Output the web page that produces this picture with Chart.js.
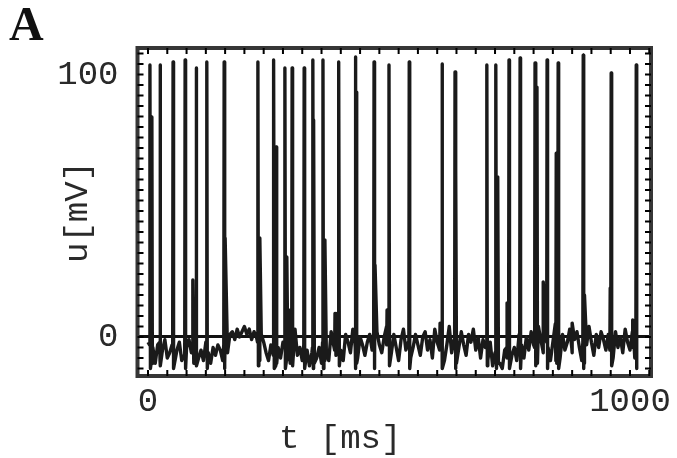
<!DOCTYPE html>
<html><head><meta charset="utf-8">
<script src="https://cdn.jsdelivr.net/npm/chart.js@4.4.1/dist/chart.umd.min.js"></script>
<style>html,body{margin:0;padding:0;background:#fff;}#wrap{width:677px;height:458px;position:relative;background:#fff}</style>
</head><body><div id="wrap"><canvas id="c" width="677" height="458"></canvas></div>
<script>
// ---- texts ----
const panelLabel = 'A';
const xTitle = 't [ms]';
const yTitle = 'u[mV]';

// ---- ticks ----
const xTickValues = [0,40,80,120,160,200,240,280,320,360,400,440,480,520,560,600,640,680,720,760,800,840,880,920,960,1000,1040];
const xLabelValues = [0, 1000];
const yTickValues = [-12,-8,-4,0,4,8,12,16,20,24,28,32,36,40,44,48,52,56,60,64,68,72,76,80,84,88,92,96,100,104,108];
const yLabelValues = [0, 100];

// ---- membrane potential trace (mV) ----
// subthreshold samples, one every 5 ms starting at t = 0
const noiseStart = 0;
const noiseStep = 5;
const noiseV = [
  -2, -8, -4, -10, -3, -9, -5, -1, -8, -6,
  -3, -10, -5, -2, -9, -7, -4, -1, -6, -10,
  -3, -8, -5, -9, -2, -6, -10, -4, -7, -3,
  -5, -9, -2, -6, 1, 2, -1, 3, 0, 2,
  4, 1, 3, -1, 2, 0, -3, 1, -2, -6,
  -9, -3, -7, -11, -4, -8, -2, 5, -6, -10,
  -3, 3, -7, -4, -9, 2, -5, -11, -6, 1,
  -8, -4, -10, 0, -6, -9, 2, -3, -7, -1,
  -5, -9, 1, -2, -6, 3, -4, -8, 0, -3,
  -7, -2, 1, -5, -8, 2, -3, -6, 0, 4,
  -2, -6, 1, -4, -9, -1, 3, -5, -2, -8,
  -4, 1, -3, -7, 0, 2, -5, -1, -8, 3,
  -2, -5, 1, -9, -3, 4, -6, -1, -10, -4,
  2, -3, -7, 1, -2, 3, -5, 0, -8, -1,
  -4, -9, -2, -11, -6, -3, -10, -12, -5, -8,
  -11, -7, -4, -9, 1, -3, -8, 0, -5, 2,
  -3, -8, 4, -1, -6, 1, -4, -9, -2, 5,
  -3, -8, 1, -5, -2, 3, -6, -1, 2, -4,
  -9, 0, -3, 4, -2, -7, 1, -4, 2, -1,
  -5, 1, -3, -8, 2, -4, 0, -6, 3, -2,
  -5, 2, -8, -12
];
// spikes: time (ms), value just before the upstroke, peak (mV), value right after the peak (null = no reset)
const spikeT = [4, 8, 25, 52, 77, 93, 100, 122, 158, 160, 228, 232, 261, 266, 284, 288, 295, 299, 324, 342, 344, 363, 367, 388, 396, 430, 432, 469, 471, 496, 500, 542, 606, 610, 637, 639, 703, 722, 726, 745, 749, 772, 803, 807, 820, 828, 847, 851, 880, 903, 906, 959, 961, 1006, 1013];
const spikeBase = [-3, -9, -2, -4, -3, -5, -2, -4, -3, -10, -2, -9, -4, -10, -3, -9, -4, -2, -3, -4, -10, -2, -9, -5, -3, -2, -10, -4, -9, -3, -2, -4, -3, -2, -3, -10, -4, -3, -10, -4, -2, -3, -4, -10, -5, -2, -9, -3, -4, -2, -10, -5, -2, -4, -3];
const spikePeak = [103.6, 83.8, 103.6, 104.8, 105.5, 21.7, 102.5, 104.8, 104.8, 37.7, 104.8, 37.7, 105.5, 72.4, 102.5, 30.5, 10.3, 102.5, 102.5, 105.5, 82.7, 105.5, 37, 9, 104.8, 106.7, 93.3, 104.8, 27.4, 10.3, 103.6, 104.8, 5.3, 104, 101, 63.6, 103.6, 103.6, 61, 13, 105.5, 106.3, 104.4, 95.2, 21, 105.5, 70, 104.4, 5.3, 107.4, 16, 18.7, 100.6, 6.5, 103.6];
const spikeReset = [-12, -10, -11, -12, -12, null, -11, -12, -12, null, -11, null, -12, -10, -12, null, null, -11, -12, -12, -10, -12, null, null, -11, -12, -10, -12, null, null, -11, -12, null, -12, -12, -10, -11, -12, -10, null, -12, -12, -11, -10, null, -12, -10, -12, null, -12, null, null, -11, null, -12];

// build the point list for the library
const pts = noiseV.map((v, i) => ({x: noiseStart + i * noiseStep, y: v}));
spikeT.forEach((t, i) => {
  pts.push({x: t - 0.8, y: spikeBase[i]});
  pts.push({x: t, y: spikePeak[i]});
  if (spikeReset[i] !== null) pts.push({x: t + 1, y: spikeReset[i]});
});
pts.sort((a, b) => a.x - b.x);

const monoFont = 'Liberation Mono';

const framePlugin = {
  id: 'frame',
  afterDatasetsDraw(chart) {
    const ctx = chart.ctx;
    const {left, right, top, bottom} = chart.chartArea;
    const xs = chart.scales.x, ys = chart.scales.y;
    ctx.save();
    ctx.strokeStyle = '#363636';
    ctx.lineWidth = 4;
    ctx.strokeRect(left, top, right - left, bottom - top);
    ctx.strokeStyle = '#000';
    ctx.lineWidth = 2;
    ctx.beginPath();
    xs.ticks.forEach(t => {
      const px = xs.getPixelForValue(t.value);
      ctx.moveTo(px, bottom); ctx.lineTo(px, bottom - 6);
      ctx.moveTo(px, top); ctx.lineTo(px, top + 6);
    });
    ys.ticks.forEach(t => {
      const py = ys.getPixelForValue(t.value);
      ctx.moveTo(left, py); ctx.lineTo(left + 6, py);
      ctx.moveTo(right, py); ctx.lineTo(right - 6, py);
    });
    ctx.stroke();
    ctx.fillStyle = '#111';
    ctx.textBaseline = 'alphabetic';
    ctx.textAlign = 'left';
    ctx.font = 'bold 48px "Liberation Serif"';
    ctx.fillText(panelLabel, 9, 40);
    ctx.fillStyle = '#2a2a2a';
    ctx.font = '34px "' + monoFont + '"';
    ctx.fillText(xTitle, 279, 448);
    ctx.restore();
  }
};

new Chart(document.getElementById('c'), {
  type: 'line',
  data: {
    datasets: [{
      data: pts,
      borderColor: '#1a1a1a',
      borderWidth: 3.4,
      pointRadius: 0,
      tension: 0,
      fill: false,
      borderJoinStyle: 'round'
    }]
  },
  options: {
    responsive: false,
    animation: false,
    layout: {padding: {left: 0, right: 26, top: 48, bottom: 0}},
    plugins: {legend: {display: false}, tooltip: {enabled: false}, title: {display: false}},
    scales: {
      x: {
        type: 'linear',
        min: -21.8,
        max: 1043.6,
        afterBuildTicks: s => { s.ticks = xTickValues.map(v => ({value: v})); },
        afterFit: s => { s.height = 82; },
        grid: {display: false, drawTicks: false},
        border: {display: false},
        ticks: {
          autoSkip: false, maxRotation: 0, minRotation: 0, padding: 6, color: '#2a2a2a',
          font: {family: monoFont, size: 34},
          callback: v => xLabelValues.includes(v) ? String(v) : ''
        }
      },
      y: {
        type: 'linear',
        min: -14.86,
        max: 110.1,
        afterBuildTicks: s => { s.ticks = yTickValues.map(v => ({value: v})); },
        afterFit: s => { s.width = 137.5; },
        grid: {
          drawTicks: false,
          lineWidth: 3,
          color: c => (c.tick && c.tick.value === 0) ? '#111' : 'rgba(0,0,0,0)'
        },
        border: {display: false},
        ticks: {
          autoSkip: false, padding: 19, color: '#2a2a2a',
          font: {family: monoFont, size: 34},
          callback: v => yLabelValues.includes(v) ? String(v) : ''
        },
        title: {
          display: true, text: yTitle, color: '#2a2a2a',
          font: {family: monoFont, size: 34},
          padding: {top: 57.6, bottom: 0}
        }
      }
    }
  },
  plugins: [framePlugin]
});
</script>
</body></html>
